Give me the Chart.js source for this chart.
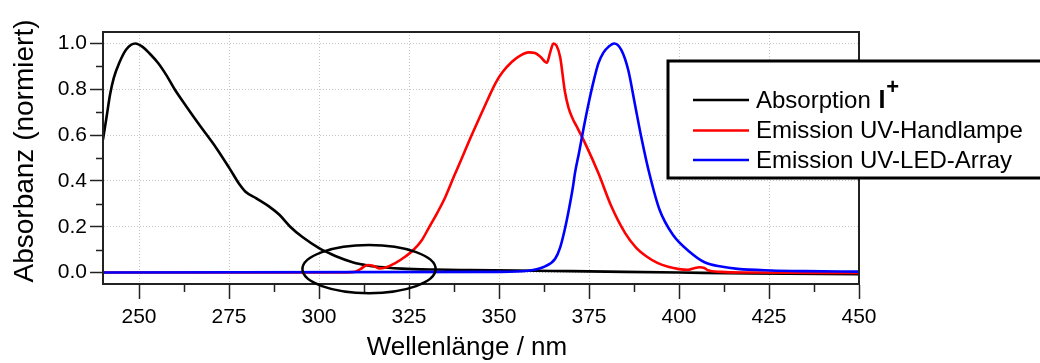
<!DOCTYPE html>
<html>
<head>
<meta charset="utf-8">
<script src="https://cdn.jsdelivr.net/npm/chart.js@4/dist/chart.umd.min.js"></script>
<style>
  html, body { margin: 0; padding: 0; background: #fff; }
  #wrap { width: 1040px; height: 363px; position: relative; }
</style>
</head>
<body>
<div id="wrap"><canvas id="c" width="1040" height="363"></canvas></div>
<script>
// ---- data ----
const absWl  = [240, 241, 242, 243, 244.5, 246.5, 249, 251, 253, 255.3, 257.6, 259.9, 263.2, 266.8, 271.5, 275.1, 277.9, 279.5, 282.5, 286, 289, 292, 295.4, 300, 302.8, 304.7, 309.3, 313.9, 318.5, 323, 332, 342, 355, 370, 385, 400, 420, 450];
const absVal = [0.58, 0.68, 0.78, 0.85, 0.915, 0.975, 1.0, 0.985, 0.955, 0.915, 0.862, 0.8, 0.724, 0.644, 0.543, 0.456, 0.385, 0.354, 0.325, 0.29, 0.252, 0.2, 0.155, 0.107, 0.085, 0.071, 0.045, 0.030, 0.022, 0.017, 0.013, 0.011, 0.009, 0.006, 0.003, 0.0, -0.004, -0.007];

const redWl  = [240, 305, 310, 311.5, 313.5, 315, 316.7, 318.5, 321.3, 324, 326, 328.5, 330.5, 333, 335.1, 337.5, 339.7, 342, 344.3, 347, 349, 351, 353.6, 356, 358.2, 360, 361.5, 363.3, 364.2, 365.1, 366, 367, 368.3, 369.3, 370.5, 371.5, 373.9, 377.6, 381.2, 385, 388, 391, 394, 397, 400, 402.5, 404, 405.7, 407, 408, 411.7, 420, 450];
const redVal = [0.0, 0.0, 0.003, 0.015, 0.033, 0.03, 0.018, 0.022, 0.042, 0.07, 0.095, 0.14, 0.195, 0.265, 0.33, 0.42, 0.5, 0.585, 0.666, 0.76, 0.826, 0.875, 0.92, 0.948, 0.961, 0.958, 0.942, 0.916, 0.96, 1.0, 0.99, 0.94, 0.79, 0.72, 0.67, 0.64, 0.565, 0.434, 0.289, 0.173, 0.11, 0.07, 0.042, 0.025, 0.015, 0.012, 0.018, 0.023, 0.02, 0.01, 0.003, 0.0, -0.002];

const blueWl  = [240, 350, 358, 362.8, 365.6, 367, 368.3, 369.4, 370.5, 371.1, 372.2, 373.5, 374.9, 376.2, 377.6, 379, 380.4, 382, 384, 385.9, 387.7, 389.5, 391.8, 394.6, 398.3, 403, 407.1, 411.7, 416.3, 425.5, 434.8, 450];
const blueVal = [0.0, 0.003, 0.008, 0.027, 0.06, 0.11, 0.19, 0.274, 0.37, 0.434, 0.521, 0.63, 0.739, 0.83, 0.913, 0.96, 0.985, 1.0, 0.971, 0.884, 0.739, 0.593, 0.43, 0.274, 0.165, 0.09, 0.045, 0.026, 0.016, 0.009, 0.006, 0.004];

const xTicks = [250, 275, 300, 325, 350, 375, 400, 425, 450];
const xMinor = [262.5, 287.5, 312.5, 337.5, 362.5, 387.5, 412.5, 437.5];
const yTicks = [0.0, 0.2, 0.4, 0.6, 0.8, 1.0];
const yMinor = [0.1, 0.3, 0.5, 0.7, 0.9];

const seriesNames = ['Absorption ', 'Emission UV-Handlampe', 'Emission UV-LED-Array'];
const seriesColors = ['#000000', '#ff0000', '#0000ff'];
const xTitle = 'Wellenlänge / nm';
const yTitle = 'Absorbanz (normiert)';
const ellipseCenter = [313.9, 0.015];
const ellipseRadii = [18.5, 0.105];

const FONT = '"Liberation Sans", Arial, Helvetica, sans-serif';

function pts(xs, ys) { return xs.map((x, i) => ({ x: x, y: ys[i] })); }

const decor = {
  id: 'decor',
  afterDatasetsDraw(chart) {
    const { ctx, chartArea: a, scales } = chart;
    const xs = scales.x, ys = scales.y;
    ctx.save();
    // frame
    ctx.strokeStyle = '#222';
    ctx.lineWidth = 2;
    ctx.strokeRect(a.left, a.top, a.right - a.left, a.bottom - a.top);
    // minor ticks
    ctx.lineWidth = 1.5;
    ctx.beginPath();
    xMinor.forEach(v => {
      const px = Math.round(xs.getPixelForValue(v)) + 0.5;
      ctx.moveTo(px, a.bottom); ctx.lineTo(px, a.bottom + 8);
    });
    yMinor.forEach(v => {
      const py = Math.round(ys.getPixelForValue(v)) + 0.5;
      ctx.moveTo(a.left, py); ctx.lineTo(a.left - 7, py);
    });
    ctx.stroke();
    // ellipse (unclipped)
    const cx = xs.getPixelForValue(ellipseCenter[0]);
    const cy = ys.getPixelForValue(ellipseCenter[1]);
    const rx = Math.abs(xs.getPixelForValue(ellipseCenter[0] + ellipseRadii[0]) - cx);
    const ry = Math.abs(ys.getPixelForValue(ellipseCenter[1] + ellipseRadii[1]) - cy);
    ctx.beginPath();
    ctx.ellipse(cx, cy, rx, ry, 0, 0, Math.PI * 2);
    ctx.strokeStyle = '#000';
    ctx.lineWidth = 2.5;
    ctx.stroke();
    ctx.restore();
  },
  afterDraw(chart) {
    const { ctx } = chart;
    ctx.save();
    // legend box
    const bx = 668, by = 61, bw = 380, bh = 117;
    ctx.fillStyle = '#fff';
    ctx.fillRect(bx, by, bw, bh);
    ctx.strokeStyle = '#000';
    ctx.lineWidth = 3;
    ctx.strokeRect(bx, by, bw, bh);
    const rows = [100, 130.5, 160];
    ctx.textBaseline = 'middle';
    ctx.textAlign = 'left';
    rows.forEach((ry, i) => {
      ctx.strokeStyle = seriesColors[i];
      ctx.lineWidth = 2.5;
      ctx.beginPath();
      ctx.moveTo(693, ry); ctx.lineTo(749, ry);
      ctx.stroke();
      ctx.fillStyle = '#000';
      ctx.font = '24px ' + FONT;
      ctx.fillText(seriesNames[i], 756, ry + 1);
      if (i === 0) {
        const w = ctx.measureText(seriesNames[i]).width;
        ctx.font = 'bold 25px ' + FONT;
        ctx.fillText('I', 756 + w + 1, ry + 1);
        const wi = ctx.measureText('I').width;
        ctx.font = 'bold 22px ' + FONT;
        ctx.fillText('+', 756 + w + 1 + wi + 1, ry - 12);
      }
    });
    // axis titles
    ctx.fillStyle = '#000';
    ctx.font = '26px ' + FONT;
    ctx.textAlign = 'center';
    ctx.textBaseline = 'middle';
    ctx.fillText(xTitle, 467, 348);
    ctx.translate(25, 151);
    ctx.rotate(-Math.PI / 2);
    ctx.font = '28px ' + FONT;
    ctx.fillText(yTitle, 0, 0);
    ctx.restore();
  }
};

new Chart(document.getElementById('c'), {
  type: 'line',
  data: {
    datasets: [
      { label: seriesNames[0], data: pts(absWl, absVal), borderColor: seriesColors[0], order: 3 },
      { label: seriesNames[1], data: pts(redWl, redVal), borderColor: seriesColors[1], order: 2 },
      { label: seriesNames[2], data: pts(blueWl, blueVal), borderColor: seriesColors[2], order: 1 }
    ]
  },
  options: {
    responsive: false,
    animation: false,
    events: [],
    layout: { padding: { left: 0, top: 32, right: 181, bottom: 0 } },
    elements: {
      point: { radius: 0 },
      line: { borderWidth: 2.6, cubicInterpolationMode: 'monotone', fill: false }
    },
    plugins: { legend: { display: false }, tooltip: { enabled: false }, title: { display: false } },
    scales: {
      x: {
        type: 'linear', min: 240, max: 450,
        afterBuildTicks: s => { s.ticks = xTicks.map(v => ({ value: v })); },
        afterFit: s => { s.height = 79; },
        ticks: { color: '#000', font: { family: FONT, size: 21 }, maxRotation: 0, autoSkip: false, padding: 6,
                 callback: v => String(v) },
        grid: { color: '#c4c4c4', lineWidth: 1, tickLength: 15, tickColor: '#222', tickWidth: 1.5 },
        border: { display: true, color: '#222', width: 2, dash: [1, 2] }
      },
      y: {
        type: 'linear', min: -0.05, max: 1.05,
        afterBuildTicks: s => { s.ticks = yTicks.map(v => ({ value: v })); },
        afterFit: s => { s.width = 103; },
        ticks: { color: '#000', font: { family: FONT, size: 21 }, padding: 3, autoSkip: false,
                 callback: v => Number(v).toFixed(1) },
        grid: { color: '#c4c4c4', lineWidth: 1, tickLength: 13, tickColor: '#222', tickWidth: 1.5 },
        border: { display: true, color: '#222', width: 2, dash: [1, 2] }
      }
    }
  },
  plugins: [decor]
});
</script>
</body>
</html>
